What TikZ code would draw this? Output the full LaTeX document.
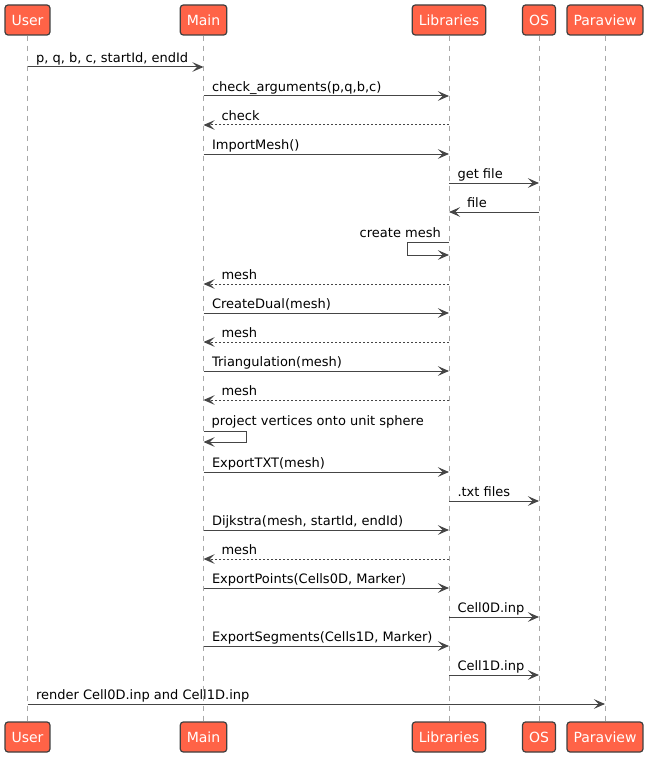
\documentclass[tikz,border=0pt]{standalone}
\usepackage{fontspec}
\setmainfont{DejaVu Sans}
\usepackage{xcolor}
\usetikzlibrary{arrows.meta, positioning}

\definecolor{boxfill}{HTML}{FF6347}
\definecolor{boxline}{HTML}{3F3F3F}
\definecolor{arrowcol}{HTML}{454545}
\definecolor{lifecol}{HTML}{A8A8A8}

\begin{document}
\begin{tikzpicture}[
		x=1pt, y=-1pt,
		participant/.style={
			rectangle,
			rounded corners=3pt,
			draw=boxline,
			fill=boxfill,
			line width=1.2pt,
			text=white,
			minimum height=30pt,
			inner xsep=6.5pt,
			font=\fontsize{14}{16}\selectfont
		},
		lifeline/.style={
			lifecol,
			line width=0.8pt,
			dash pattern=on 5pt off 5pt
		},
		msg/.style={
			arrowcol,
			line width=1pt,
			-{Stealth[length=11pt, width=9.5pt, inset=4.5pt]}
		},
		reply/.style={
			msg,
			dash pattern=on 2pt off 2pt
		},
		lbl/.style={
			inner sep=0pt,
			text=black,
			font=\fontsize{13}{15}\selectfont
		}
	]
	
	\useasboundingbox (0,0) rectangle (649,757);
	
	% participants, top and bottom
	\node[participant] (userT) at (27.5,20) {User};
	\node[participant] (mainT) at (203.5,20) {Main};
	\node[participant] (libT) at (449,20) {Libraries};
	\node[participant] (osT) at (539,20) {OS};
	\node[participant] (pvT) at (605,20) {Paraview};
	
	\node[participant] (userB) at (27.5,737) {User};
	\node[participant] (mainB) at (203.5,737) {Main};
	\node[participant] (libB) at (449,737) {Libraries};
	\node[participant] (osB) at (539,737) {OS};
	\node[participant] (pvB) at (605,737) {Paraview};
	
	% lifelines
	\draw[lifeline] (userT) -- (userB);
	\draw[lifeline] (mainT) -- (mainB);
	\draw[lifeline] (libT) -- (libB);
	\draw[lifeline] (osT) -- (osB);
	\draw[lifeline] (pvT) -- (pvB);
	
	% messages
	\draw[msg] (userT |- 0,67) -- (mainT |- 0,67) node[lbl, pos=0, anchor=base west, xshift=8pt, yshift=4.5pt] {p, q, b, c, startId, endId};
	\draw[msg] (mainT |- 0,96) -- (libT |- 0,96) node[lbl, pos=0, anchor=base west, xshift=8pt, yshift=4.5pt] {check\_arguments(p,q,b,c)};
	\draw[reply] (libT |- 0,125) -- (mainT |- 0,125) node[lbl, pos=1, anchor=base west, xshift=17.5pt, yshift=4.5pt] {check};
	\draw[msg] (mainT |- 0,154) -- (libT |- 0,154) node[lbl, pos=0, anchor=base west, xshift=8pt, yshift=4.5pt] {ImportMesh()};
	\draw[msg] (libT |- 0,183) -- (osT |- 0,183) node[lbl, pos=0, anchor=base west, xshift=8pt, yshift=4.5pt] {get file};
	\draw[msg] (osT |- 0,212) -- (libT |- 0,212) node[lbl, pos=1, anchor=base west, xshift=17.5pt, yshift=4.5pt] {file};
	\draw[msg] (libT |- 0,242) -- ++(-42,0) -- ++(0,13) -- (libT |- 0,255);
	\node[lbl, anchor=base east] (createlbl) at (441,237) {create mesh};
	\draw[reply] (libT |- 0,284) -- (mainT |- 0,284) node[lbl, pos=1, anchor=base west, xshift=17.5pt, yshift=4.5pt] {mesh};
	\draw[msg] (mainT |- 0,313) -- (libT |- 0,313) node[lbl, pos=0, anchor=base west, xshift=8pt, yshift=4.5pt] {CreateDual(mesh)};
	\draw[reply] (libT |- 0,342) -- (mainT |- 0,342) node[lbl, pos=1, anchor=base west, xshift=17.5pt, yshift=4.5pt] {mesh};
	\draw[msg] (mainT |- 0,371) -- (libT |- 0,371) node[lbl, pos=0, anchor=base west, xshift=8pt, yshift=4.5pt] {Triangulation(mesh)};
	\draw[reply] (libT |- 0,400) -- (mainT |- 0,400) node[lbl, pos=1, anchor=base west, xshift=17.5pt, yshift=4.5pt] {mesh};
	\draw[msg] (mainT |- 0,431) -- ++(43,0) -- ++(0,11) -- (mainT |- 0,442);
	\node[lbl, anchor=base west] (projlbl) at (211.5,425.5) {project vertices onto unit sphere};
	\draw[msg] (mainT |- 0,472) -- (libT |- 0,472) node[lbl, pos=0, anchor=base west, xshift=8pt, yshift=4.5pt] {ExportTXT(mesh)};
	\draw[msg] (libT |- 0,501) -- (osT |- 0,501) node[lbl, pos=0, anchor=base west, xshift=8pt, yshift=4.5pt] {.txt files};
	\draw[msg] (mainT |- 0,530) -- (libT |- 0,530) node[lbl, pos=0, anchor=base west, xshift=8pt, yshift=4.5pt] {Dijkstra(mesh, startId, endId)};
	\draw[reply] (libT |- 0,559) -- (mainT |- 0,559) node[lbl, pos=1, anchor=base west, xshift=17.5pt, yshift=4.5pt] {mesh};
	\draw[msg] (mainT |- 0,588) -- (libT |- 0,588) node[lbl, pos=0, anchor=base west, xshift=8pt, yshift=4.5pt] {ExportPoints(Cells0D, Marker)};
	\draw[msg] (libT |- 0,617) -- (osT |- 0,617) node[lbl, pos=0, anchor=base west, xshift=8pt, yshift=4.5pt] {Cell0D.inp};
	\draw[msg] (mainT |- 0,646) -- (libT |- 0,646) node[lbl, pos=0, anchor=base west, xshift=8pt, yshift=4.5pt] {ExportSegments(Cells1D, Marker)};
	\draw[msg] (libT |- 0,675) -- (osT |- 0,675) node[lbl, pos=0, anchor=base west, xshift=8pt, yshift=4.5pt] {Cell1D.inp};
	\draw[msg] (userT |- 0,704) -- (pvT |- 0,704) node[lbl, pos=0, anchor=base west, xshift=8pt, yshift=4.5pt] {render Cell0D.inp and Cell1D.inp};
	
\end{tikzpicture}
\end{document}
